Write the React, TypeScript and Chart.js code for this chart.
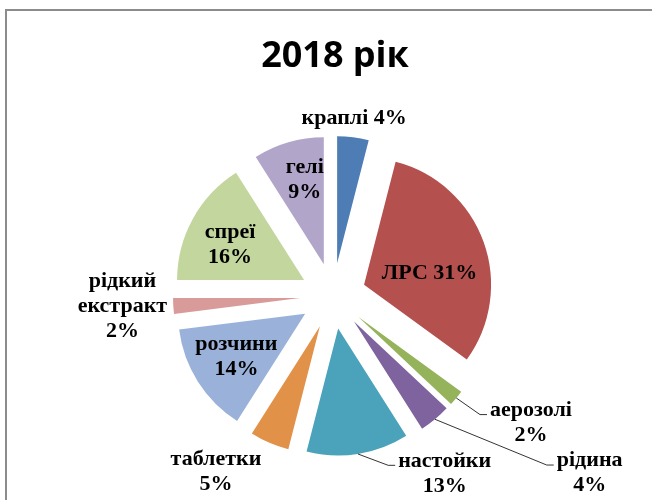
import React, { useEffect, useRef } from 'react';
import { Chart, registerables } from 'chart.js';

Chart.register(...registerables);

const TITLE = '2018 рік';
const categories = ['краплі', 'ЛРС', 'аерозолі', 'рідина', 'настойки', 'таблетки', 'розчини', 'рідкий екстракт', 'спреї', 'гелі'];
const shares = [4, 31, 2, 4, 13, 5, 14, 2, 16, 9];
const colors = ['#4E7DB5', '#B4504E', '#94B35A', '#7E639E', '#4AA3BA', '#E29148', '#9AB2D9', '#D89B9A', '#C2D69E', '#B2A5CA'];

// label layout: 0 = "name N%", 1 = name / N%, 2 = each word on its own line / N%
const labelMode = [0, 0, 1, 1, 1, 1, 1, 2, 1, 1];
// label position relative to pie centre: angle (deg clockwise from top), distance (in radii)
const labelAngle = [6.8, 76.6, 122.6, 124.6, 147.8, 213.6, 237.7, 267.3, 296.4, 346.4];
const labelDist = [1.41, 0.782, 1.85, 2.455, 1.65, 1.665, 0.9, 1.66, 0.905, 0.945];
const hasLeader = [false, false, true, true, true, false, false, false, false, false];

const EXPLODE_PX = 33; // Excel-style explosion: every slice moved outward by the same distance

function linesFor(i: number): string[] {
  const pct = shares[i] + '%';
  const name = categories[i];
  if (labelMode[i] === 0) return [name + ' ' + pct];
  if (labelMode[i] === 1) return [name, pct];
  return [...name.split(' '), pct];
}

// draw each arc element translated along its bisector (plain translation, same radius & angle)
const explodePlugin = {
  id: 'explode',
  beforeDatasetDraw(chart: any, args: any) {
    const ctx = chart.ctx as CanvasRenderingContext2D;
    const arcs = args.meta.data as any[];
    arcs.forEach((arc: any) => {
      const mid = (arc.startAngle + arc.endAngle) / 2;
      ctx.save();
      ctx.translate(Math.cos(mid) * EXPLODE_PX, Math.sin(mid) * EXPLODE_PX);
      arc.draw(ctx);
      ctx.restore();
    });
    return false;
  },
};

const labelPlugin = {
  id: 'pieLabels',
  afterDatasetsDraw(chart: any) {
    const ctx = chart.ctx as CanvasRenderingContext2D;
    const meta = chart.getDatasetMeta(0);
    const arcs = meta.data as any[];
    if (!arcs.length) return;
    const cx = arcs[0].x;
    const cy = arcs[0].y;
    const R = arcs[0].outerRadius;
    ctx.save();
    ctx.font = 'bold 36px "Open Sans"';
    ctx.fillStyle = '#000';
    ctx.textAlign = 'center';
    ctx.textBaseline = 'alphabetic';
    ctx.fillText(TITLE, 335, 67);

    ctx.font = 'bold 22px "Liberation Serif"';
    ctx.textBaseline = 'middle';
    const lh = 25;
    arcs.forEach((arc: any, i: number) => {
      const lines = linesFor(i);
      const a = ((labelAngle[i] - 90) * Math.PI) / 180;
      const px = cx + Math.cos(a) * labelDist[i] * R;
      const py = cy + Math.sin(a) * labelDist[i] * R;
      if (hasLeader[i]) {
        const mid = (arc.startAngle + arc.endAngle) / 2;
        const sx = cx + Math.cos(mid) * (R + EXPLODE_PX);
        const sy = cy + Math.sin(mid) * (R + EXPLODE_PX);
        const w = Math.max(...lines.map((l) => ctx.measureText(l).width));
        const left = px - w / 2;
        const ly = py - 8;
        ctx.strokeStyle = '#333333';
        ctx.lineWidth = 1;
        ctx.beginPath();
        ctx.moveTo(sx, sy);
        ctx.lineTo(left - 10, ly);
        ctx.lineTo(left - 3, ly);
        ctx.stroke();
      }
      ctx.fillStyle = '#000';
      lines.forEach((l, j) => {
        ctx.fillText(l, px, py + (j - (lines.length - 1) / 2) * lh);
      });
    });
    ctx.restore();
  },
};

export default function App() {
  const ref = useRef<HTMLCanvasElement | null>(null);
  useEffect(() => {
    if (!ref.current) return;
    const chart = new Chart(ref.current, {
      type: 'pie',
      data: {
        labels: categories,
        datasets: [
          {
            data: shares,
            backgroundColor: colors,
            borderWidth: 0,
            offset: 0,
            hoverOffset: 0,
          },
        ],
      },
      options: {
        responsive: false,
        animation: false,
        events: [],
        layout: { padding: { left: 206, right: 192, top: 169, bottom: 77 } },
        plugins: {
          legend: { display: false },
          title: { display: false },
          tooltip: { enabled: false },
        },
      },
      plugins: [explodePlugin, labelPlugin],
    });
    return () => chart.destroy();
  }, []);

  return (
    <div style={{ position: 'absolute', left: 0, top: 0, width: 652, height: 500, overflow: 'hidden', background: '#fff' }}>
      <div
        style={{
          position: 'absolute',
          left: 5,
          top: 9,
          width: 700,
          height: 600,
          borderLeft: '2px solid #8c8c8c',
          borderTop: '2px solid #8c8c8c',
        }}
      />
      <canvas ref={ref} width={652} height={500} style={{ position: 'absolute', left: 0, top: 0, width: 652, height: 500 }} />
    </div>
  );
}
